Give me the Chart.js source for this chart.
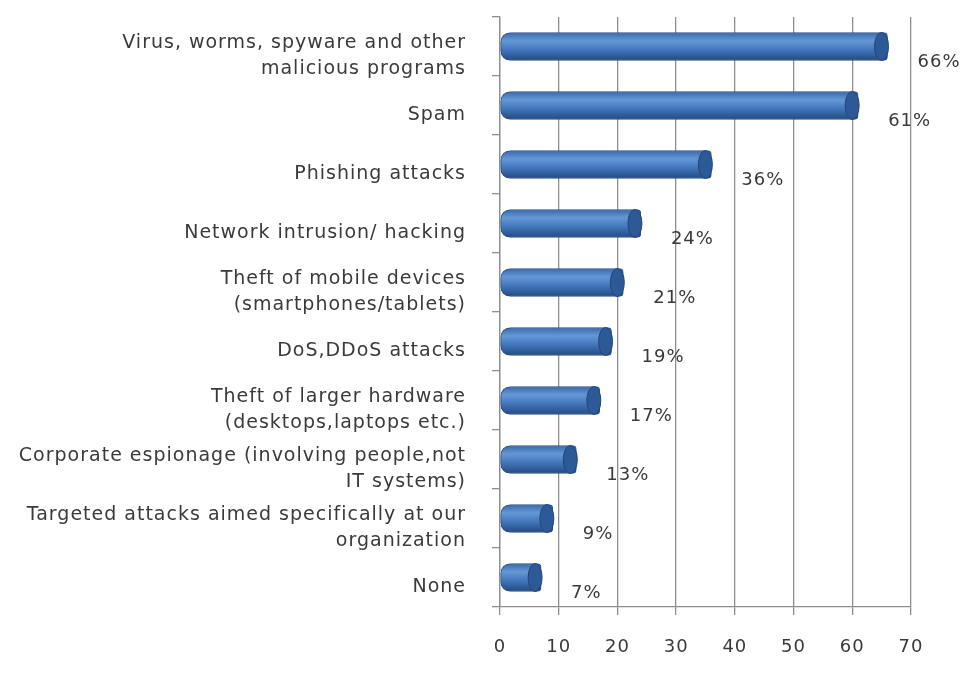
<!DOCTYPE html>
<html>
<head>
<meta charset="utf-8">
<script src="https://cdn.jsdelivr.net/npm/chart.js@4"></script>
<style>
  html, body { margin: 0; padding: 0; background: #fff; }
  #wrap { width: 969px; height: 684px; }
</style>
</head>
<body>
<div id="wrap"><canvas id="threats"></canvas></div>
<script>
// Data
const categories = [
    ["Virus, worms, spyware and other", "malicious programs"],
    "Spam",
    "Phishing attacks",
    "Network intrusion/ hacking",
    ["Theft of mobile devices", "(smartphones/tablets)"],
    "DoS,DDoS attacks",
    ["Theft of larger hardware", "(desktops,laptops etc.)"],
    ["Corporate espionage (involving people,not", "IT systems)"],
    ["Targeted attacks aimed specifically at our", "organization"],
    "None"
];
const percentages = [66, 61, 36, 24, 21, 19, 17, 13, 9, 7];
const xTicks = [0, 10, 20, 30, 40, 50, 60, 70];

const BAR_H = 28;
const textColor = "#3a3a3a";
const fontFamily = "'DejaVu Sans', Verdana, sans-serif";

// vertical gradient so the bars look like cylinders
function barFill(context) {
    const chart = context.chart;
    const yScale = chart.scales.y;
    if (!yScale || context.dataIndex === undefined) return "#4a7ebf";
    const cy = yScale.getPixelForValue(context.dataIndex);
    if (!Number.isFinite(cy)) return "#4a7ebf";
    const g = chart.ctx.createLinearGradient(0, cy - BAR_H / 2, 0, cy + BAR_H / 2);
    g.addColorStop(0, "#3a69a8");
    g.addColorStop(0.3, "#6597d6");
    g.addColorStop(0.6, "#4378bd");
    g.addColorStop(1, "#244a80");
    return g;
}

// wider letter spacing, like the original rendering
const spacing = {
    id: "spacing",
    beforeDraw(chart) {
        chart.ctx.letterSpacing = "1px";
    }
};

// darker elliptical cap at the end of each bar + value labels
const capsAndLabels = {
    id: "capsAndLabels",
    afterDatasetsDraw(chart) {
        const ctx = chart.ctx;
        const meta = chart.getDatasetMeta(0);
        ctx.save();
        meta.data.forEach(function(bar, i) {
            const h = bar.height;
            ctx.beginPath();
            ctx.ellipse(bar.x - 6, bar.y, 7, h / 2, 0, 0, Math.PI * 2);
            ctx.fillStyle = "#2d5a96";
            ctx.fill();
            ctx.strokeStyle = "#22467a";
            ctx.lineWidth = 1;
            ctx.stroke();

            ctx.fillStyle = textColor;
            ctx.font = "18px " + fontFamily;
            ctx.textAlign = "left";
            ctx.textBaseline = "middle";
            ctx.fillText(percentages[i] + "%", bar.x + 30, bar.y + 16);
        });
        ctx.restore();
    }
};

new Chart(document.getElementById("threats"), {
    type: "bar",
    data: {
        labels: categories,
        datasets: [{
            data: percentages,
            backgroundColor: barFill,
            borderColor: "#2a5288",
            borderWidth: 1,
            borderSkipped: false,
            borderRadius: { topLeft: 10, bottomLeft: 10, topRight: 4, bottomRight: 4 },
            barThickness: BAR_H
        }]
    },
    options: {
        indexAxis: "y",
        responsive: true,
        maintainAspectRatio: false,
        animation: false,
        layout: { padding: { top: 17, right: 58, bottom: 0, left: 0 } },
        plugins: {
            legend: { display: false },
            tooltip: { enabled: false }
        },
        scales: {
            x: {
                min: 0,
                max: 70,
                afterBuildTicks(axis) {
                    axis.ticks = xTicks.map(v => ({ value: v }));
                },
                afterFit(axis) {
                    axis.height = 77;
                    axis.paddingLeft = 0;
                    axis.paddingRight = 0;
                },
                grid: {
                    color: "#8f8f8f",
                    lineWidth: 1.3,
                    tickLength: 8,
                    tickColor: "#8f8f8f"
                },
                border: { display: true, color: "#8f8f8f", width: 1.3 },
                ticks: {
                    color: textColor,
                    font: { family: fontFamily, size: 18 },
                    padding: 22
                }
            },
            y: {
                afterFit(axis) {
                    axis.width = 500;
                    axis.paddingTop = 0;
                    axis.paddingBottom = 0;
                },
                grid: {
                    offset: true,
                    drawOnChartArea: false,
                    tickLength: 8,
                    color: "#8f8f8f",
                    lineWidth: 1.3
                },
                border: { display: true, color: "#8f8f8f", width: 1.3 },
                ticks: {
                    color: textColor,
                    font: { family: fontFamily, size: 19, lineHeight: 1.37 },
                    padding: 26,
                    labelOffset: 10,
                    align: "center",
                    crossAlign: "near"
                }
            }
        }
    },
    plugins: [spacing, capsAndLabels]
});
</script>
</body>
</html>
